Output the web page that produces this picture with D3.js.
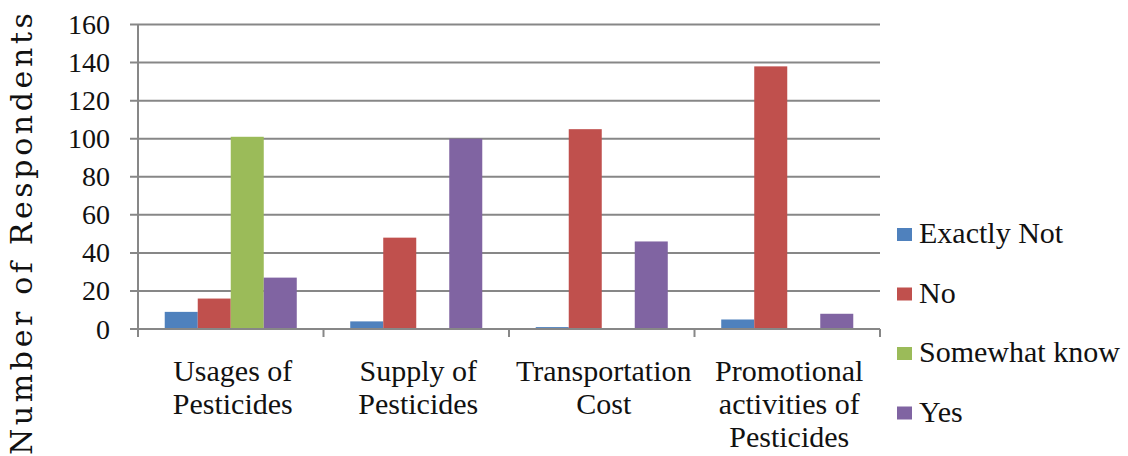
<!DOCTYPE html>
<html>
<head>
<meta charset="utf-8">
<script src="https://cdn.jsdelivr.net/npm/d3@7"></script>
<style>
  body { margin: 0; background: #fff; }
  svg { display: block; }
</style>
</head>
<body>
<svg width="1128" height="456"></svg>
<script>
// data
var categories = ['Usages of Pesticides', 'Supply of Pesticides', 'Transportation Cost', 'Promotional activities of Pesticides'];
var categoryLines = [['Usages of', 'Pesticides'], ['Supply of', 'Pesticides'], ['Transportation', 'Cost'], ['Promotional', 'activities of', 'Pesticides']];
var seriesNames = ['Exactly Not', 'No', 'Somewhat know', 'Yes'];
var exactlyNot = [9, 4, 1, 5];
var no = [16, 48, 105, 138];
var somewhatKnow = [101, 0, 0, 0];
var yes = [27, 100, 46, 8];
var yTicks = [0, 20, 40, 60, 80, 100, 120, 140, 160];
var colors = ['#4F81BD', '#C0504D', '#9BBB59', '#8064A2'];

var seriesValues = [exactlyNot, no, somewhatKnow, yes];
var rows = categories.map(function(c, i) {
  return { cat: c, vals: seriesNames.map(function(s, j) { return { name: s, value: seriesValues[j][i], color: colors[j] }; }) };
});

var svg = d3.select('svg');
var plotLeft = 138, plotRight = 880, plotTop = 24.5, plotBottom = 329;
var serif = "'Liberation Serif', Tinos, 'Times New Roman', Times, serif";
var gridColor = '#878787';

var x0 = d3.scaleBand().domain(categories).range([plotLeft, plotRight]).paddingInner(0).paddingOuter(0);
var x1 = d3.scaleBand().domain(seriesNames).range([0, x0.bandwidth()]).paddingInner(0).paddingOuter(0.81);
var y = d3.scaleLinear().domain([0, 160]).range([plotBottom, plotTop]);

// gridlines
svg.append('g')
  .selectAll('line')
  .data(yTicks)
  .enter()
  .append('line')
  .attr('x1', plotLeft - 8)
  .attr('x2', plotRight)
  .attr('y1', function(d) { return y(d); })
  .attr('y2', function(d) { return y(d); })
  .attr('stroke', gridColor)
  .attr('stroke-width', 2);

// y axis line
svg.append('line')
  .attr('x1', plotLeft).attr('x2', plotLeft)
  .attr('y1', y(160)).attr('y2', plotBottom + 8)
  .attr('stroke', gridColor).attr('stroke-width', 2);

// x category ticks
var bounds = categories.map(function(c) { return x0(c) + x0.bandwidth(); });
svg.append('g')
  .selectAll('line')
  .data(bounds)
  .enter()
  .append('line')
  .attr('x1', function(d) { return d; })
  .attr('x2', function(d) { return d; })
  .attr('y1', plotBottom)
  .attr('y2', plotBottom + 8)
  .attr('stroke', gridColor)
  .attr('stroke-width', 2);

// y tick labels
svg.append('g')
  .selectAll('text')
  .data(yTicks)
  .enter()
  .append('text')
  .attr('x', 110)
  .attr('y', function(d) { return y(d) + 9.5; })
  .attr('text-anchor', 'end')
  .attr('font-family', serif)
  .attr('font-size', 28)
  .attr('fill', '#111')
  .text(function(d) { return d; });

// bars
var groups = svg.append('g')
  .selectAll('g')
  .data(rows)
  .enter()
  .append('g')
  .attr('transform', function(d) { return 'translate(' + x0(d.cat) + ',0)'; });

groups.selectAll('rect')
  .data(function(d) { return d.vals; })
  .enter()
  .append('rect')
  .attr('x', function(d) { return x1(d.name); })
  .attr('width', x1.bandwidth())
  .attr('y', function(d) { return y(d.value); })
  .attr('height', function(d) { return plotBottom - y(d.value); })
  .attr('fill', function(d) { return d.color; });

// bottom axis line redrawn over bars
svg.append('line')
  .attr('x1', plotLeft).attr('x2', plotRight)
  .attr('y1', plotBottom).attr('y2', plotBottom)
  .attr('stroke', gridColor).attr('stroke-width', 2);

// category labels
var catLabels = svg.append('g')
  .selectAll('text')
  .data(categories)
  .enter()
  .append('text')
  .attr('text-anchor', 'middle')
  .attr('font-family', serif)
  .attr('font-size', 30)
  .attr('fill', '#111');

catLabels.selectAll('tspan')
  .data(function(d, i) { return categoryLines[i].map(function(l) { return { line: l, cat: d }; }); })
  .enter()
  .append('tspan')
  .attr('x', function(d) { return x0(d.cat) + x0.bandwidth() / 2 + 2; })
  .attr('y', function(d, i) { return 380.5 + i * 33; })
  .text(function(d) { return d.line; });

// y axis title
svg.append('text')
  .attr('transform', 'translate(32,234) rotate(-90)')
  .attr('text-anchor', 'middle')
  .attr('textLength', 442)
  .attr('lengthAdjust', 'spacing')
  .attr('font-family', "'DejaVu Serif', serif")
  .attr('font-size', 30)
  .attr('fill', '#111')
  .text('Number of Respondents');

// legend
var legend = svg.append('g')
  .selectAll('g')
  .data(seriesNames)
  .enter()
  .append('g')
  .attr('transform', function(d, i) { return 'translate(897,' + (243 + i * 59.5) + ')'; });

legend.append('rect')
  .attr('x', 0)
  .attr('y', -15)
  .attr('width', 15)
  .attr('height', 13)
  .attr('fill', function(d, i) { return colors[i]; });

legend.append('text')
  .attr('x', 22)
  .attr('y', 0)
  .attr('font-family', serif)
  .attr('font-size', 30)
  .attr('fill', '#111')
  .text(function(d) { return d; });
</script>
</body>
</html>
